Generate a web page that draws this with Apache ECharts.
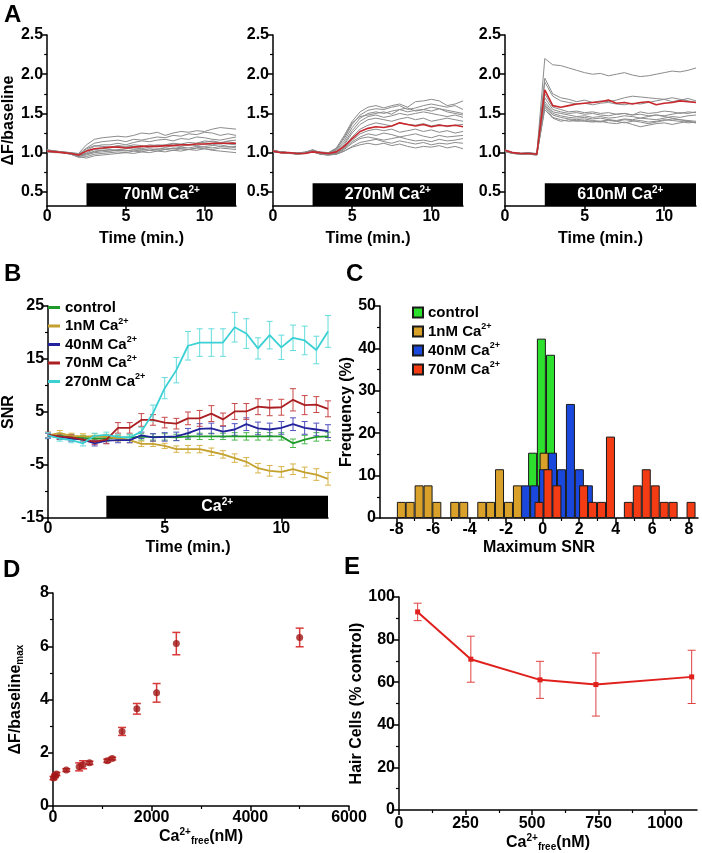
<!DOCTYPE html>
<html><head><meta charset="utf-8">
<script src="https://cdn.jsdelivr.net/npm/echarts@6/dist/echarts.min.js"></script>
<style>html,body{margin:0;padding:0;background:#fff}#c{width:702px;height:853px}</style>
</head><body><div id="c"></div>
<script>
// ================= DATA =================
// Panel A: time (min) and traces (ΔF/baseline)
const tA = [0,0.5,1,1.5,2,2.5,3,3.5,4,4.5,5,5.5,6,6.5,7,7.5,8,8.5,9,9.5,10,10.5,11,11.5,12];
const aStimStart = 2.5;
const aYTicks = [0.5,1.0,1.5,2.0,2.5];
const aYMinor = [0.75,1.25,1.75,2.25];
const aXTicks = [0,5,10];
const aLabels = ['70nM','270nM','610nM'];

const a70Traces = [
 [1.03,1.02,1.01,1.0,0.99,1.10,1.17,1.19,1.20,1.21,1.20,1.22,1.25,1.24,1.26,1.22,1.25,1.27,1.26,1.28,1.27,1.30,1.32,1.31,1.30],
 [1.02,1.02,1.0,1.0,0.98,1.06,1.12,1.14,1.15,1.16,1.14,1.17,1.16,1.18,1.20,1.19,1.22,1.21,1.24,1.23,1.26,1.25,1.22,1.24,1.22],
 [1.04,1.02,1.01,0.99,0.97,1.03,1.08,1.10,1.10,1.12,1.10,1.13,1.15,1.14,1.16,1.17,1.15,1.18,1.17,1.20,1.19,1.17,1.16,1.18,1.20],
 [1.01,1.01,1.0,0.99,0.96,1.0,1.04,1.05,1.06,1.08,1.07,1.08,1.07,1.10,1.09,1.10,1.12,1.11,1.13,1.12,1.15,1.14,1.12,1.15,1.16],
 [1.02,1.01,1.0,0.98,0.95,0.98,1.02,1.03,1.04,1.03,1.05,1.06,1.05,1.07,1.08,1.07,1.09,1.08,1.10,1.09,1.11,1.10,1.12,1.11,1.10],
 [1.03,1.02,1.0,0.99,0.96,0.97,1.0,1.01,1.02,1.03,1.02,1.04,1.03,1.05,1.04,1.06,1.05,1.07,1.06,1.08,1.07,1.06,1.08,1.07,1.08],
 [1.01,1.0,1.0,0.98,0.94,0.95,0.98,0.99,1.0,1.01,1.0,1.02,1.01,1.03,1.02,1.04,1.03,1.05,1.04,1.06,1.05,1.04,1.06,1.05,1.04],
 [1.02,1.01,1.0,0.99,0.95,0.93,0.96,0.97,0.98,0.99,1.0,0.99,1.01,1.0,1.02,1.01,1.03,1.02,1.04,1.03,1.05,1.03,1.02,1.01,1.0],
 [1.03,1.02,1.01,1.0,0.97,1.05,1.09,1.08,1.07,1.09,1.08,1.10,1.09,1.08,1.10,1.09,1.11,1.10,1.09,1.12,1.13,1.15,1.13,1.14,1.12],
 [1.02,1.01,1.0,0.98,0.96,0.99,1.01,1.03,1.02,1.04,1.03,1.02,1.04,1.03,1.05,1.04,1.06,1.05,1.04,1.06,1.08,1.09,1.10,1.08,1.06]
];
const a70Mean = [1.02,1.01,1.0,0.99,0.97,1.02,1.05,1.06,1.07,1.07,1.06,1.07,1.08,1.08,1.08,1.09,1.09,1.10,1.10,1.11,1.11,1.12,1.12,1.12,1.12];

const a270Traces = [
 [1.03,1.01,1.0,0.99,1.0,1.02,1.01,1.0,1.06,1.22,1.40,1.52,1.58,1.60,1.57,1.60,1.62,1.58,1.65,1.66,1.68,1.66,1.60,1.62,1.66],
 [1.02,1.0,1.0,0.99,1.01,1.03,1.0,1.0,1.05,1.18,1.36,1.48,1.54,1.56,1.55,1.58,1.60,1.55,1.57,1.60,1.62,1.60,1.58,1.60,1.55],
 [1.01,1.0,0.99,0.99,1.0,1.02,1.0,0.99,1.03,1.15,1.32,1.44,1.50,1.52,1.50,1.53,1.55,1.52,1.54,1.55,1.53,1.56,1.54,1.52,1.50],
 [1.02,1.01,1.0,0.98,0.99,1.01,0.99,0.99,1.02,1.12,1.28,1.40,1.46,1.48,1.45,1.47,1.50,1.48,1.50,1.52,1.50,1.48,1.46,1.48,1.45],
 [1.03,1.01,1.0,1.0,1.0,1.04,1.0,0.98,1.01,1.10,1.25,1.36,1.42,1.44,1.42,1.40,1.43,1.45,1.42,1.44,1.40,1.42,1.44,1.42,1.40],
 [1.02,1.0,0.99,0.99,1.0,1.02,0.99,0.98,1.0,1.08,1.20,1.30,1.35,1.38,1.36,1.34,1.38,1.36,1.35,1.37,1.34,1.36,1.33,1.35,1.36],
 [1.01,1.0,1.0,0.99,0.99,1.01,0.98,0.97,0.99,1.06,1.16,1.24,1.28,1.30,1.28,1.30,1.26,1.28,1.30,1.27,1.29,1.26,1.28,1.25,1.27],
 [1.02,1.01,1.0,0.98,0.99,1.03,0.99,0.98,0.99,1.05,1.14,1.20,1.24,1.22,1.25,1.23,1.20,1.22,1.24,1.21,1.19,1.22,1.20,1.21,1.22],
 [1.02,1.0,0.99,0.99,1.0,1.02,0.98,0.97,0.98,1.04,1.12,1.18,1.20,1.18,1.16,1.18,1.20,1.17,1.15,1.16,1.14,1.17,1.15,1.16,1.18],
 [1.01,1.0,0.99,0.98,0.99,1.01,0.98,0.97,0.98,1.02,1.08,1.13,1.15,1.17,1.14,1.12,1.15,1.13,1.11,1.13,1.10,1.12,1.11,1.13,1.12],
 [1.02,1.01,1.0,0.99,1.0,1.02,0.99,0.98,0.98,1.02,1.07,1.10,1.12,1.10,1.12,1.09,1.11,1.08,1.06,1.08,1.07,1.09,1.06,1.08,1.05],
 [1.03,1.01,1.0,0.99,1.0,1.03,1.0,0.99,1.04,1.20,1.38,1.46,1.48,1.50,1.52,1.49,1.55,1.57,1.53,1.55,1.58,1.56,1.52,1.50,1.48]
];
const a270Mean = [1.02,1.0,1.0,0.99,0.99,1.01,1.0,0.99,1.01,1.08,1.18,1.27,1.31,1.33,1.32,1.34,1.38,1.36,1.34,1.36,1.33,1.35,1.34,1.35,1.33];

const a610Traces = [
 [1.04,1.0,0.99,1.0,0.99,2.20,2.12,2.11,2.08,2.05,2.02,2.00,2.01,1.98,2.0,2.02,1.99,1.97,1.98,2.0,2.02,2.04,2.03,2.05,2.08],
 [1.02,0.99,0.98,0.99,0.98,1.95,1.75,1.70,1.68,1.65,1.67,1.64,1.66,1.65,1.67,1.70,1.72,1.71,1.70,1.69,1.68,1.70,1.68,1.66,1.64],
 [1.03,1.0,0.99,1.0,0.98,1.90,1.72,1.66,1.64,1.62,1.63,1.61,1.63,1.64,1.62,1.61,1.63,1.62,1.64,1.66,1.68,1.65,1.67,1.69,1.66],
 [1.01,0.99,0.98,0.98,0.97,1.70,1.55,1.52,1.50,1.51,1.49,1.50,1.48,1.47,1.49,1.50,1.48,1.52,1.50,1.51,1.53,1.52,1.50,1.52,1.51],
 [1.02,1.0,0.99,0.99,0.98,1.65,1.52,1.50,1.48,1.46,1.47,1.45,1.46,1.44,1.45,1.47,1.46,1.44,1.46,1.48,1.47,1.49,1.51,1.50,1.52],
 [1.03,1.0,0.99,1.0,0.98,1.62,1.50,1.47,1.45,1.44,1.45,1.43,1.44,1.42,1.41,1.43,1.42,1.44,1.43,1.42,1.44,1.46,1.45,1.47,1.48],
 [1.02,0.99,0.99,0.99,0.97,1.60,1.48,1.45,1.43,1.42,1.43,1.41,1.40,1.42,1.40,1.38,1.40,1.41,1.39,1.40,1.42,1.41,1.40,1.38,1.39],
 [1.01,0.99,0.98,0.98,0.97,1.58,1.45,1.42,1.40,1.41,1.40,1.39,1.40,1.38,1.37,1.39,1.36,1.33,1.35,1.37,1.38,1.36,1.38,1.40,1.38],
 [1.03,1.0,0.99,0.99,0.98,1.75,1.58,1.55,1.52,1.53,1.51,1.52,1.50,1.51,1.49,1.50,1.48,1.49,1.47,1.48,1.46,1.44,1.42,1.40,1.38],
 [1.02,1.0,0.98,0.99,0.98,1.55,1.44,1.40,1.42,1.40,1.41,1.40,1.39,1.41,1.40,1.42,1.41,1.39,1.37,1.39,1.41,1.43,1.42,1.41,1.40]
];
const a610Mean = [1.03,1.0,0.99,0.99,0.98,1.80,1.60,1.58,1.60,1.62,1.63,1.64,1.65,1.67,1.63,1.64,1.62,1.64,1.65,1.61,1.63,1.64,1.66,1.65,1.64];

// Panel B: SNR vs time
const tB = [0,0.5,1,1.5,2,2.5,3,3.5,4,4.5,5,5.5,6,6.5,7,7.5,8,8.5,9,9.5,10,10.5,11,11.5,12];
const bNames = ['control','1nM','40nM','70nM','270nM'];
const bControl = [0.6,0.5,0.3,0.1,0.0,0.0,0.1,0.2,0.3,0.3,0.3,0.2,0.4,0.4,0.4,0.4,0.4,0.4,0.4,0.4,0.4,-0.9,-0.2,0.3,0.4];
const bControlErr = [0.5,0.5,0.5,0.5,0.5,0.5,0.5,0.5,0.6,0.6,0.6,0.6,0.6,0.6,0.6,0.6,0.7,0.7,0.7,0.7,0.7,0.8,0.8,0.8,0.8];
const b1nM = [0.6,1.0,0.5,0.4,0.4,0.3,0.0,-0.3,-1.0,-1.0,-1.4,-2.0,-2.0,-2.0,-2.5,-3.0,-3.7,-4.4,-5.6,-6.1,-6.3,-5.8,-6.4,-6.8,-7.6];
const b1nMErr = [0.5,0.5,0.5,0.5,0.5,0.5,0.5,0.5,0.5,0.5,0.5,0.6,0.7,0.7,0.7,0.7,0.8,0.8,0.9,1.0,1.0,1.0,1.0,1.1,1.2];
const b40nM = [0.5,0.3,0.0,-0.2,-0.9,-0.4,-0.3,-0.3,0.6,0.2,0.3,0.4,1.0,1.8,1.9,1.3,1.7,2.7,1.9,1.7,2.0,2.7,2.0,1.7,1.4];
const b40nMErr = [0.5,0.5,0.5,0.5,0.5,0.5,0.5,0.5,0.6,0.7,0.8,0.8,0.9,1.0,1.0,1.0,1.1,1.2,1.2,1.2,1.2,1.2,1.2,1.2,1.2];
const b70nM = [0.7,0.4,0.2,-0.2,-0.6,-0.2,2.0,2.0,3.5,3.5,3.0,2.8,3.8,3.8,4.7,3.6,5.1,5.1,6.0,5.8,5.9,7.3,6.3,6.4,5.6];
const b70nMErr = [0.5,0.5,0.5,0.5,0.5,0.8,1.0,1.0,1.2,1.0,1.0,1.0,1.2,1.5,1.5,1.2,1.5,1.5,1.5,1.5,1.5,2.1,1.8,1.5,1.5];
const b270nM = [0.6,0.0,-0.3,-0.9,0.5,0.7,0.3,0.2,1.3,4.8,9.5,12.9,17.5,18.1,18.1,18.1,21.0,19.8,17.0,19.5,17.2,19.0,18.5,16.7,20.2];
const b270nMErr = [0.5,0.5,0.5,0.5,0.5,0.5,0.5,0.6,0.8,1.5,2.0,2.4,2.7,2.6,2.6,2.6,2.8,2.8,2.0,2.6,2.3,2.4,2.7,2.6,3.0];
const bStimStart = 2.5;

// Panel C: histogram of maximum SNR (bin centres, frequency %)
const cNames = ['control','1nM','40nM','70nM'];
const cControlX = [-0.55,-0.07,0.43];
const cControlY = [15.4,42.3,38.5];
const c1nMX = [-7.73,-7.25,-6.76,-6.27,-5.79,-4.81,-4.32,-3.33,-2.85,-2.36,-1.87,-1.38,0.08];
const c1nMY = [3.8,3.8,7.7,7.7,3.8,3.8,3.8,3.8,3.8,11.5,3.8,7.7,15.4];
const c40nMX = [-0.93,-0.44,0.05,0.54,1.03,1.52,2.01,2.5];
const c40nMY = [7.7,7.7,11.5,15.4,11.5,26.9,11.5,7.7];
const c70nMX = [-0.2,0.29,0.78,2.24,2.73,3.22,3.71,4.69,5.18,5.67,6.16,6.65,7.14,8.12];
const c70nMY = [3.8,11.5,7.7,7.7,3.8,3.8,19.2,3.8,7.7,11.5,7.7,3.8,3.8,3.8];

// Panel D
const dCa = [10,40,70,270,530,610,740,1100,1200,1400,1700,2100,2500,5000];
const dVal = [1.05,1.13,1.2,1.35,1.47,1.55,1.62,1.7,1.78,2.8,3.65,4.25,6.1,6.33];
const dErr = [0.06,0.06,0.06,0.05,0.15,0.15,0.06,0.06,0.05,0.15,0.2,0.35,0.42,0.35];

// Panel E
const eCa = [70,270,530,740,1100];
const eVal = [93,70.8,61.1,58.9,62.5];
const eErr = [4.1,10.8,8.7,14.8,12.5];

// ================= STYLE / BUILD =================
const FONT = "'Liberation Sans', Arial, sans-serif";
const BLACK = '#000';
const tickLabel = {color:BLACK, fontFamily:FONT, fontWeight:'bold', fontSize:16};
function mkRich(size){
  return {
    n:{fontFamily:FONT,fontWeight:'bold',fontSize:size,color:BLACK,lineHeight:size+3},
    sup:{fontFamily:FONT,fontWeight:'bold',fontSize:Math.round(size*0.6),color:BLACK,verticalAlign:'top',lineHeight:Math.round(size*0.6)},
    sub:{fontFamily:FONT,fontWeight:'bold',fontSize:Math.round(size*0.6),color:BLACK,verticalAlign:'bottom',lineHeight:Math.round(size*0.6)}
  };
}
const grids=[], xAxes=[], yAxes=[], series=[];
const addGrid=g=>{grids.push(g);return grids.length-1;};
const addX=a=>{xAxes.push(a);return xAxes.length-1;};
const addY=a=>{yAxes.push(a);return yAxes.length-1;};

function mkAxis(dim, gi, o){
  const ax = {type:'value', gridIndex:gi, min:o.min, max:o.max,
    position: dim==='x'?'bottom':'left',
    axisLine:{show:true,onZero:false,lineStyle:{color:BLACK,width:1.5}},
    axisTick:{show:true,length:5,lineStyle:{color:BLACK,width:1.5}},
    axisLabel:Object.assign({}, tickLabel, {margin:o.margin!=null?o.margin:4, formatter:o.fmt||(v=>String(v))}),
    splitLine:{show:false}, minorTick:{show:false}, minorSplitLine:{show:false}};
  if (o.labels){ ax.axisLabel.customValues=o.labels; ax.axisTick.customValues=o.labels; }
  if (o.interval!=null) ax.interval=o.interval;
  if (o.minorSplit) ax.minorTick={show:true,splitNumber:o.minorSplit,length:3,lineStyle:{color:BLACK,width:1.2}};
  if (o.name){
    ax.name=o.name; ax.nameLocation='middle'; ax.nameGap=o.nameGap;
    ax.nameTextStyle={color:BLACK,fontFamily:FONT,fontWeight:'bold',fontSize:16,rich:mkRich(16)};
    if (dim==='y') ax.nameRotate=90;
  }
  return ax;
}
function mkMinor(dim, gi, min, max, values){
  return {type:'value', gridIndex:gi, min, max, position: dim==='x'?'bottom':'left',
    axisLine:{show:false,onZero:false}, axisLabel:{show:false}, splitLine:{show:false},
    axisTick:{show:true,length:3,lineStyle:{color:BLACK,width:1.2},customValues:values}};
}
function errSeries(xi, yi, xs, ys, es, color, cap, width){
  return {type:'custom', xAxisIndex:xi, yAxisIndex:yi, silent:true,
    data: xs.map((x,i)=>[x, ys[i]-es[i], ys[i]+es[i]]),
    encode:{x:0, y:[1,2]},
    renderItem(params, api){
      const x=api.value(0), lo=api.value(1), hi=api.value(2);
      const p1=api.coord([x,hi]), p2=api.coord([x,lo]);
      const st={stroke:color,lineWidth:width};
      return {type:'group',children:[
        {type:'line',shape:{x1:p1[0],y1:p1[1],x2:p2[0],y2:p2[1]},style:st},
        {type:'line',shape:{x1:p1[0]-cap,y1:p1[1],x2:p1[0]+cap,y2:p1[1]},style:st},
        {type:'line',shape:{x1:p2[0]-cap,y1:p2[1],x2:p2[0]+cap,y2:p2[1]},style:st}]};
    }};
}
const whiteRich = {
  w:{color:'#fff',fontFamily:FONT,fontWeight:'bold',fontSize:16,lineHeight:19},
  ws:{color:'#fff',fontFamily:FONT,fontWeight:'bold',fontSize:10,verticalAlign:'top',lineHeight:10}
};

// ---- Panel A ----
const aYMin = 0.32, aBarTop = 0.61;
const aSets = [[a70Traces,a70Mean],[a270Traces,a270Mean],[a610Traces,a610Mean]];
const aLefts = [45,273,505], aWidths=[191,190,191];
aSets.forEach((s,i)=>{
  const gi = addGrid({left:aLefts[i], top:35, width:aWidths[i], height:171});
  const xi = addX(mkAxis('x',gi,{min:0,max:12,labels:aXTicks,margin:3,name:'Time (min.)',nameGap:25}));
  const yi = addY(mkAxis('y',gi,{min:aYMin,max:2.5,labels:aYTicks,margin:4,fmt:v=>v.toFixed(1),
      name: i===0?'ΔF/baseline':undefined, nameGap:24}));
  addY(mkMinor('y',gi,aYMin,2.5,aYMinor));
  s[0].forEach(tr=>series.push({type:'line',xAxisIndex:xi,yAxisIndex:yi,symbol:'none',silent:true,
    data:tA.map((t,j)=>[t,tr[j]]), lineStyle:{color:'#8c8c8c',width:1}}));
  series.push({type:'line',xAxisIndex:xi,yAxisIndex:yi,symbol:'none',silent:true,z:3,
    data:tA.map((t,j)=>[t,s[1][j]]), lineStyle:{color:'#c8282d',width:1.6},
    markArea:{silent:true,itemStyle:{color:'#000'},
      label:{show:true,position:'inside',formatter:'{w|'+aLabels[i]+' Ca}{ws|2+}',rich:whiteRich},
      data:[[{coord:[aStimStart,aYMin]},{coord:[12,aBarTop]}]]}});
});

// ---- Panel B ----
const gB = addGrid({left:41, top:306, width:287, height:212});
const xB = addX(mkAxis('x',gB,{min:0,max:12,labels:[0,5,10],margin:3,name:'Time (min.)',nameGap:22}));
const yB = addY(mkAxis('y',gB,{min:-15,max:25,labels:[-15,-5,5,15,25],name:'SNR',nameGap:22}));
addY(mkMinor('y',gB,-15,25,[-10,0,10,20]));
const bVals=[bControl,b1nM,b40nM,b70nM,b270nM];
const bErrs=[bControlErr,b1nMErr,b40nMErr,b70nMErr,b270nMErr];
const bColors=['#1f9a2a','#c4a02e','#22229a','#aa1f22','#3ad0d4'];
const bErrColors=['#4cb84c','#d8b44a','#5050c0','#c84848','#66dcdc'];
bVals.forEach((v,k)=>{
  series.push(errSeries(xB,yB,tB,v,bErrs[k],bErrColors[k],3,1));
  const s = {type:'line',name:'B '+bNames[k],xAxisIndex:xB,yAxisIndex:yB,symbol:'none',silent:true,
    color:bColors[k], data:tB.map((t,j)=>[t,v[j]]), lineStyle:{color:bColors[k],width:1.8}};
  if (k===bVals.length-1){
    s.markArea={silent:true,itemStyle:{color:'#000'},
      label:{show:true,position:'inside',formatter:'{w|Ca}{ws|2+}',rich:whiteRich},
      data:[[{coord:[bStimStart,-15]},{coord:[12,-10.8]}]]};
  }
  series.push(s);
});

// ---- Panel C ----
const gC = addGrid({left:380, top:306, width:318, height:212});
const xC = addX(mkAxis('x',gC,{min:-8.9,max:8.5,labels:[-8,-6,-4,-2,0,2,4,6,8],margin:4,name:'Maximum SNR',nameGap:22}));
addX(mkMinor('x',gC,-8.9,8.5,[-7,-5,-3,-1,1,3,5,7]));
const yC = addY(mkAxis('y',gC,{min:0,max:50,interval:10,minorSplit:2,name:'Frequency (%)',nameGap:20}));
const cXs=[cControlX,c1nMX,c40nMX,c70nMX], cYs=[cControlY,c1nMY,c40nMY,c70nMY];
const cColors=['#2ee02e','#d9a02a','#1a48dc','#f43c14'];
cXs.forEach((xs,k)=>{
  series.push({type:'bar',name:'C '+cNames[k],xAxisIndex:xC,yAxisIndex:yC,silent:true,
    barWidth:9,barGap:'-100%',color:cColors[k],
    itemStyle:{color:cColors[k],borderColor:'#1a1a1a',borderWidth:1},
    data:xs.map((x,j)=>[x,cYs[k][j]])});
});

// ---- Panel D ----
const gD = addGrid({left:53, top:593, width:296, height:213});
const xD = addX(mkAxis('x',gD,{min:0,max:6000,interval:2000,minorSplit:2,margin:4,
  name:'{n|Ca}{sup|2+}{sub|free}{n|(nM)}',nameGap:20}));
const yD = addY(mkAxis('y',gD,{min:0,max:8,interval:2,minorSplit:2,name:'{n|ΔF/baseline}{sub|max}',nameGap:28}));
series.push(errSeries(xD,yD,dCa,dVal,dErr,'#d83a3a',4,1.5));
series.push({type:'scatter',xAxisIndex:xD,yAxisIndex:yD,silent:true,symbol:'circle',symbolSize:7,
  itemStyle:{color:'#a01616'},data:dCa.map((x,j)=>[x,dVal[j]])});

// ---- Panel E ----
const gE = addGrid({left:399, top:597, width:298, height:213});
const xE = addX(mkAxis('x',gE,{min:0,max:1120,labels:[0,250,500,750,1000],margin:6,
  name:'{n|Ca}{sup|2+}{sub|free}{n|(nM)}',nameGap:18}));
addX(mkMinor('x',gE,0,1120,[125,375,625,875]));
const yE = addY(mkAxis('y',gE,{min:0,max:100,interval:20,minorSplit:2,name:'Hair Cells (% control)',nameGap:30}));
series.push(errSeries(xE,yE,eCa,eVal,eErr,'#e04040',4,1));
series.push({type:'line',xAxisIndex:xE,yAxisIndex:yE,silent:true,symbol:'rect',symbolSize:5,
  color:'#e0201c',itemStyle:{color:'#e0201c'},lineStyle:{color:'#e0201c',width:2},
  data:eCa.map((x,j)=>[x,eVal[j]])});

// ---- legends ----
const legRich = {
  n:{fontFamily:FONT,fontWeight:'bold',fontSize:15,color:BLACK,lineHeight:18},
  sup:{fontFamily:FONT,fontWeight:'bold',fontSize:9,color:BLACK,verticalAlign:'top',lineHeight:9}
};
const legFmt = n => n==='control' ? '{n|control}' : '{n|'+n+' Ca}{sup|2+}';

const option = {
  animation:false,
  backgroundColor:'#fff',
  grid:grids, xAxis:xAxes, yAxis:yAxes, series,
  legend:[
    {left:43, top:295, orient:'vertical', icon:'rect', itemWidth:12, itemHeight:3, itemGap:2,
     selectedMode:false, data:bNames.map(n=>'B '+n), formatter:n=>legFmt(n.slice(2)),
     textStyle:{rich:legRich}},
    {left:407, top:300, orient:'vertical', icon:'rect', itemWidth:10, itemHeight:10, itemGap:2.5,
     selectedMode:false, data:cNames.map(n=>'C '+n), formatter:n=>legFmt(n.slice(2)),
     textStyle:{rich:legRich}}
  ],
  graphic:[
    ['A',4,3],['B',4,262],['C',346,262],['D',3,558],['E',344,555]
  ].map(([t,x,y])=>({type:'text',left:x,top:y,style:{text:t,fill:'#000',fontFamily:FONT,fontWeight:'bold',fontSize:24}}))
};
const chart = echarts.init(document.getElementById('c'), null, {renderer:'canvas'});
chart.setOption(option);
</script>
</body></html>
